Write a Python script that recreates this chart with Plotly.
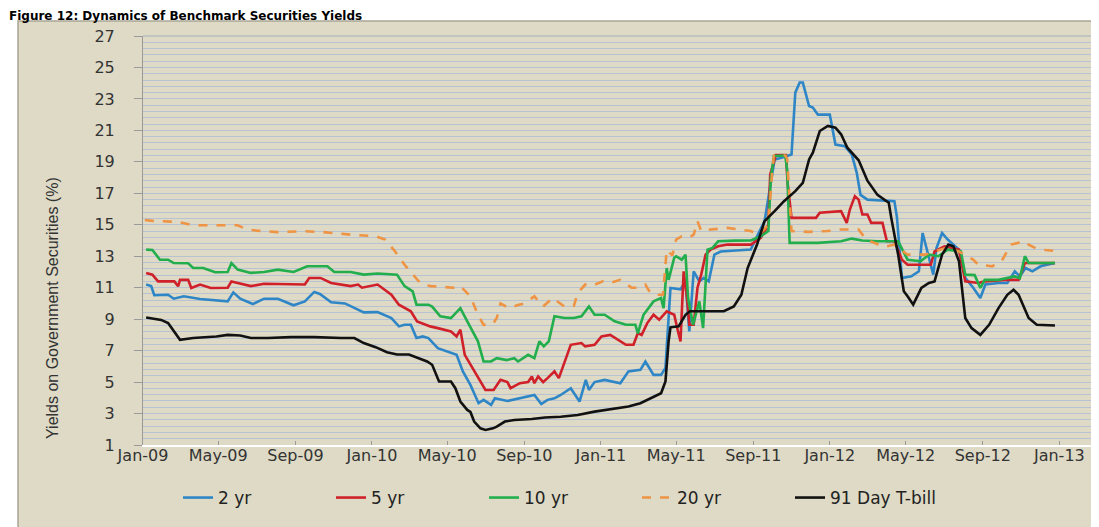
import plotly.graph_objects as go

# ---------------- data ----------------
dates_2yr = ["2009-01-06","2009-01-14","2009-01-19","2009-02-10","2009-02-19","2009-03-07","2009-04-02","2009-04-28",
             "2009-05-16","2009-05-25","2009-06-05","2009-06-25","2009-07-13","2009-08-04","2009-08-29","2009-09-16",
             "2009-10-01","2009-10-10","2009-10-28","2009-11-19","2009-12-19","2010-01-10","2010-02-01","2010-02-13",
             "2010-02-22","2010-03-04","2010-03-13","2010-03-23","2010-04-01","2010-04-16","2010-05-01","2010-05-16",
             "2010-05-26","2010-06-07","2010-06-20","2010-06-28","2010-07-10","2010-07-16","2010-08-05","2010-08-25",
             "2010-09-17","2010-09-28","2010-10-08","2010-10-19","2010-10-29","2010-11-14","2010-11-28","2010-12-08",
             "2010-12-13","2010-12-22","2011-01-07","2011-02-01","2011-02-14","2011-03-05","2011-03-13","2011-03-26",
             "2011-04-07","2011-04-14","2011-04-22","2011-05-08","2011-05-16","2011-05-22","2011-05-26","2011-05-29",
             "2011-06-07","2011-06-14","2011-06-22","2011-07-01","2011-07-11","2011-07-28","2011-08-28","2011-09-07",
             "2011-09-19","2011-09-25","2011-10-05","2011-10-16","2011-11-01","2011-11-07","2011-11-14","2011-11-19",
             "2011-11-29","2011-12-05","2011-12-13","2012-01-01","2012-01-10","2012-01-25","2012-02-05","2012-02-13",
             "2012-02-19","2012-03-01","2012-04-13","2012-04-17","2012-04-25","2012-05-10","2012-05-22","2012-05-28",
             "2012-06-10","2012-06-14","2012-06-19","2012-06-28","2012-07-07","2012-07-25","2012-08-04","2012-08-17",
             "2012-08-28","2012-09-05","2012-09-26","2012-10-10","2012-10-22","2012-10-30","2012-11-08","2012-11-19",
             "2012-12-02","2012-12-25"]
yld_2yr = [11.2,11.1,10.52,10.55,10.3,10.45,10.28,10.2,
           10.13,10.7,10.3,9.96,10.3,10.3,9.88,10.13,
           10.73,10.6,10.07,10.0,9.43,9.45,9.07,8.54,
           8.64,8.64,7.8,7.9,7.8,7.16,6.95,6.73,
           5.68,4.82,3.66,3.87,3.55,3.97,3.8,3.97,
           4.18,3.6,3.87,3.97,4.18,4.61,3.76,5.14,
           4.5,5.0,5.14,4.93,5.68,5.78,6.31,5.46,
           5.46,5.9,10.98,10.9,11.4,8.22,10.13,12.04,
           11.4,11.62,11.4,13.1,13.3,13.35,13.42,14.27,
           15.23,16.71,19.15,19.26,19.47,23.4,24.04,24.04,
           22.55,22.45,22.0,22.0,20.1,20.0,19.47,18.3,
           16.9,16.6,16.5,15.5,11.62,11.72,12.04,14.48,
           12.46,11.83,13.5,14.48,14.06,13.42,11.62,10.98,
           10.34,11.2,11.3,11.3,12.04,11.72,12.25,12.04,
           12.36,12.57]

dates_5yr = ["2009-01-06","2009-01-16","2009-01-25","2009-02-20","2009-02-26","2009-03-01","2009-03-14","2009-03-19",
             "2009-04-02","2009-04-19","2009-05-16","2009-05-22","2009-06-01","2009-06-22","2009-07-13","2009-08-19",
             "2009-09-16","2009-09-23","2009-10-11","2009-10-28","2009-11-28","2009-12-10","2009-12-16","2010-01-10",
             "2010-01-22","2010-02-01","2010-02-13","2010-03-04","2010-03-14","2010-04-04","2010-04-16","2010-05-07",
             "2010-05-16","2010-05-22","2010-05-29","2010-06-13","2010-07-01","2010-07-14","2010-07-25","2010-08-05",
             "2010-08-10","2010-08-25","2010-09-07","2010-09-13","2010-09-17","2010-09-23","2010-10-01","2010-10-08",
             "2010-10-19","2010-10-26","2010-11-04","2010-11-14","2010-12-01","2010-12-07","2010-12-22","2011-01-02",
             "2011-01-16","2011-02-10","2011-02-22","2011-03-01","2011-03-07","2011-03-16","2011-03-26","2011-04-04",
             "2011-04-16","2011-04-28","2011-05-04","2011-05-08","2011-05-13","2011-05-19","2011-05-22","2011-05-29",
             "2011-06-04","2011-06-10","2011-06-17","2011-06-25","2011-07-07","2011-07-22","2011-08-28","2011-09-13",
             "2011-09-25","2011-09-28","2011-10-07","2011-10-23","2011-10-26","2011-11-01","2011-12-10","2011-12-16",
             "2012-01-19","2012-01-28","2012-02-02","2012-02-10","2012-02-16","2012-02-22","2012-03-01","2012-03-07",
             "2012-03-25","2012-04-01","2012-04-13","2012-04-25","2012-05-04","2012-06-10","2012-06-16","2012-07-02",
             "2012-07-25","2012-08-04","2012-08-25","2012-09-04","2012-10-07","2012-10-28","2012-11-07","2012-12-25"]
yld_5yr = [11.94,11.83,11.4,11.4,11.09,11.5,11.5,10.98,
           11.2,10.98,11.0,11.4,11.3,11.1,11.25,11.2,
           11.2,11.62,11.62,11.3,11.1,11.2,11.0,11.2,
           10.87,10.55,9.92,9.5,8.86,8.54,8.43,8.22,
           7.9,8.33,6.73,5.68,4.5,4.5,5.14,5.0,
           4.61,4.93,5.0,5.36,4.93,5.36,5.0,5.25,
           5.68,5.25,6.31,7.37,7.48,7.27,7.37,7.9,
           8.0,7.37,7.37,8.12,8.0,8.75,9.28,8.96,
           9.5,9.28,8.22,7.59,12.04,10.13,8.64,8.64,
           10.98,11.83,13.1,13.42,13.63,13.74,13.74,14.17,
           15.0,18.2,19.43,19.43,17.56,15.44,15.44,15.76,
           15.87,15.12,15.97,16.82,16.6,15.65,15.65,15.12,
           15.12,13.95,13.95,12.78,12.46,12.46,13.3,13.63,
           13.42,11.4,11.3,11.4,11.5,11.5,12.57,12.57]

dates_10yr = ["2009-01-06","2009-01-16","2009-01-28","2009-02-10","2009-02-19","2009-03-14","2009-03-22","2009-04-07",
              "2009-04-26","2009-05-16","2009-05-22","2009-06-01","2009-06-22","2009-07-13","2009-08-04","2009-08-29",
              "2009-09-20","2009-10-22","2009-11-02","2009-11-28","2009-12-19","2010-01-10","2010-02-10","2010-02-22",
              "2010-03-07","2010-03-13","2010-03-25","2010-04-01","2010-04-07","2010-04-20","2010-05-07","2010-05-22",
              "2010-06-02","2010-06-19","2010-06-28","2010-07-10","2010-07-19","2010-08-04","2010-08-16","2010-08-22",
              "2010-09-07","2010-09-17","2010-09-25","2010-10-02","2010-10-10","2010-10-19","2010-11-04","2010-11-19",
              "2010-12-01","2010-12-13","2010-12-22","2011-01-07","2011-01-23","2011-02-10","2011-02-25","2011-03-01",
              "2011-03-05","2011-03-10","2011-03-26","2011-04-07","2011-04-11","2011-04-16","2011-04-19","2011-04-28",
              "2011-05-01","2011-05-10","2011-05-16","2011-05-20","2011-05-28","2011-06-07","2011-06-13","2011-06-17",
              "2011-06-20","2011-06-28","2011-07-07","2011-08-02","2011-08-28","2011-09-13","2011-09-25","2011-09-29",
              "2011-10-04","2011-10-22","2011-10-25","2011-10-29","2011-12-13","2012-01-19","2012-02-05","2012-02-22",
              "2012-03-17","2012-04-19","2012-05-04","2012-05-25","2012-06-07","2012-06-22","2012-07-07","2012-07-28",
              "2012-08-04","2012-08-19","2012-08-28","2012-09-04","2012-09-26","2012-10-22","2012-10-30","2012-11-07",
              "2012-11-13","2012-12-04","2012-12-25"]
yld_10yr = [13.42,13.4,12.78,12.78,12.57,12.55,12.25,12.25,
            11.98,12.0,12.57,12.15,11.94,12.0,12.15,12.0,
            12.36,12.36,12.0,12.0,11.83,11.9,11.83,11.1,
            10.77,9.92,9.92,9.92,9.8,9.18,9.07,9.7,
            8.86,7.59,6.31,6.31,6.52,6.4,6.52,6.31,
            6.73,6.52,7.59,7.27,7.59,9.18,9.07,9.07,
            9.18,9.81,9.28,9.28,8.86,8.64,8.64,8.1,
            8.64,9.28,10.13,10.34,9.7,12.25,11.5,12.9,
            13.0,12.78,13.1,10.34,8.64,10.13,8.43,11.83,
            13.42,13.53,13.95,13.99,14.0,14.27,14.6,17.99,
            19.37,19.4,18.5,13.85,13.85,13.95,14.12,14.0,
            13.95,13.95,12.78,12.68,13.1,13.0,13.42,13.3,
            11.83,11.8,10.98,11.5,11.5,11.72,11.6,13.0,
            12.57,12.57,12.57]

dates_20yr = ["2009-01-04","2009-01-16","2009-02-15","2009-03-01","2009-03-22","2009-05-10","2009-06-01","2009-06-16",
              "2009-07-01","2009-08-04","2009-09-16","2009-10-16","2009-11-28","2010-01-07","2010-01-22","2010-02-07",
              "2010-02-22","2010-03-08","2010-03-19","2010-04-04","2010-05-01","2010-05-11","2010-05-22","2010-06-07",
              "2010-06-19","2010-06-28","2010-07-13","2010-07-19","2010-07-25","2010-08-07","2010-08-22","2010-09-01",
              "2010-09-17","2010-10-01","2010-10-16","2010-11-04","2010-11-19","2010-11-25","2010-12-07","2010-12-16",
              "2011-01-04","2011-01-16","2011-02-01","2011-02-19","2011-03-01","2011-03-13","2011-03-19","2011-03-26",
              "2011-04-10","2011-04-14","2011-04-16","2011-04-25","2011-05-01","2011-05-10","2011-05-22","2011-05-29",
              "2011-06-04","2011-06-10","2011-06-25","2011-07-22","2011-08-13","2011-08-28","2011-09-10","2011-09-25",
              "2011-10-02","2011-10-04","2011-10-22","2011-10-25","2011-11-01","2011-11-28","2011-12-28","2012-01-19",
              "2012-02-16","2012-02-28","2012-03-28","2012-04-13","2012-05-04","2012-06-01","2012-07-02","2012-07-25",
              "2012-08-16","2012-08-25","2012-09-16","2012-10-01","2012-10-16","2012-11-07","2012-11-13","2012-11-25",
              "2012-12-10","2012-12-22"]
yld_20yr = [15.3,15.25,15.2,15.15,14.97,14.97,14.97,14.7,
            14.63,14.53,14.59,14.53,14.37,14.27,14.06,13.3,
            12.46,11.8,11.3,11.1,11.0,11.0,11.1,10.45,
            9.28,8.64,8.7,9.07,10.0,9.7,9.9,10.0,
            10.45,9.8,10.35,9.8,9.85,10.65,11.2,11.1,
            11.4,11.3,11.5,11.0,11.0,11.2,10.8,10.55,
            10.55,12.2,13.4,13.05,14.06,14.27,14.2,14.37,
            15.23,14.6,14.7,14.8,14.7,14.6,14.37,15.0,
            18.8,19.4,19.4,19.2,14.6,14.55,14.6,14.7,
            14.7,14.06,13.6,13.74,13.1,13.1,13.5,13.3,
            12.8,12.46,12.36,12.7,13.74,13.95,13.74,13.5,
            13.4,13.35]

dates_tbill = ["2009-01-06","2009-01-30","2009-02-10","2009-03-01","2009-03-22","2009-04-28","2009-05-16","2009-06-05",
               "2009-06-22","2009-07-19","2009-08-25","2009-10-01","2009-11-13","2009-12-04","2009-12-19","2010-01-07",
               "2010-01-25","2010-02-10","2010-03-01","2010-03-16","2010-03-30","2010-04-07","2010-04-18","2010-05-07",
               "2010-05-14","2010-05-22","2010-06-02","2010-06-07","2010-06-13","2010-06-23","2010-07-01","2010-07-13",
               "2010-07-19","2010-08-01","2010-08-16","2010-09-13","2010-10-04","2010-10-29","2010-11-25","2010-12-22",
               "2011-01-23","2011-02-14","2011-03-05","2011-03-22","2011-04-07","2011-04-14","2011-04-19","2011-04-22",
               "2011-05-05","2011-05-16","2011-05-23","2011-07-16","2011-08-01","2011-08-13","2011-08-23","2011-09-07",
               "2011-09-19","2011-10-05","2011-10-20","2011-11-07","2011-11-19","2011-11-29","2011-12-05","2011-12-16",
               "2011-12-29","2012-01-10","2012-01-19","2012-01-29","2012-02-16","2012-03-01","2012-03-17","2012-04-04",
               "2012-04-08","2012-04-19","2012-04-28","2012-05-04","2012-05-13","2012-05-26","2012-06-07","2012-06-16",
               "2012-06-28","2012-07-08","2012-07-16","2012-07-25","2012-08-04","2012-08-14","2012-08-28","2012-09-11",
               "2012-09-26","2012-10-10","2012-10-20","2012-10-28","2012-11-13","2012-11-26","2012-12-13","2012-12-25"]
yld_tbill = [9.11,8.95,8.75,7.69,7.8,7.9,8.0,7.96,
             7.8,7.8,7.86,7.86,7.8,7.8,7.48,7.22,
             6.9,6.75,6.75,6.5,6.31,6.1,5.04,5.04,
             4.61,3.76,3.23,3.1,2.49,2.06,1.96,2.06,
             2.17,2.49,2.59,2.65,2.75,2.8,2.91,3.12,
             3.34,3.45,3.66,3.97,4.29,5.04,7.59,8.48,
             8.54,9.28,9.5,9.5,9.81,10.55,12.25,13.74,
             15.23,15.87,16.5,17.14,17.67,19.15,19.58,20.96,
             21.28,21.17,20.75,19.9,19.1,17.8,16.9,16.4,
             15.44,13.1,10.77,10.45,9.92,10.98,11.3,11.4,
             13.1,13.74,13.63,12.68,9.07,8.43,8.0,8.64,
             9.7,10.55,10.87,10.55,9.07,8.64,8.64,8.6]

series_names = ["2 yr", "5 yr", "10 yr", "20 yr", "91 Day T-bill"]
title_text = "Figure 12: Dynamics of Benchmark Securities Yields"
y_title = "Yields on Government Securities (%)"

# ---------------- figure ----------------
W, H = 1099, 527
L, R, T, B = 135, 5, 28, 90
pw, ph = W - L - R, H - T - B

def px_x(px):
    return (px - L) / pw

def px_y(py):
    return (H - B - py) / ph

styles = [
    dict(color="#2F86C6", width=2.6),
    dict(color="#D0202A", width=2.6),
    dict(color="#22AE4C", width=2.6),
    dict(color="#EE9444", width=2.6, dash="dash"),
    dict(color="#111111", width=2.6),
]
xs = [dates_2yr, dates_5yr, dates_10yr, dates_20yr, dates_tbill]
ys = [yld_2yr, yld_5yr, yld_10yr, yld_20yr, yld_tbill]

fig = go.Figure()
for name, x, y, st in zip(series_names, xs, ys, styles):
    fig.add_trace(go.Scatter(x=x, y=y, mode="lines", name=name, line=st))

grid_col = "#B7C3D3"
fig.update_layout(
    width=W, height=H,
    margin=dict(l=L, r=R, t=T, b=B),
    paper_bgcolor="white",
    plot_bgcolor="#DCE6F2",
    font=dict(family="DejaVu Sans, Verdana, sans-serif", color="#2a2a2a"),
    xaxis=dict(
        type="date",
        range=["2009-01-01", "2013-03-10"],
        tick0="2009-01-01", dtick="M4", tickformat="%b-%y",
        showgrid=False, zeroline=False,
        showline=True, linecolor="white", linewidth=2,
        ticks="inside", ticklen=4, tickcolor="#9a9a9a",
        ticklabelstandoff=-5,
        tickfont=dict(size=16, family="DejaVu Sans, Verdana, sans-serif", color="#333"),
    ),
    yaxis=dict(
        range=[1, 27], tick0=1, dtick=2,
        showgrid=True, gridcolor=grid_col, gridwidth=1,
        minor=dict(tick0=1, dtick=0.4, showgrid=True, gridcolor=grid_col, gridwidth=1),
        zeroline=False,
        showline=True, linecolor="#9a9a9a", linewidth=1,
        ticks="outside", ticklen=8, tickcolor="#9a9a9a",
        ticklabelstandoff=16,
        tickfont=dict(size=16, family="DejaVu Sans, Verdana, sans-serif", color="#333"),
    ),
    legend=dict(
        orientation="h", x=px_x(170), xanchor="left", y=px_y(490), yanchor="middle",
        bgcolor="rgba(0,0,0,0)", font=dict(size=17, color="#222"),
        entrywidthmode="pixels", entrywidth=108,
    ),
    showlegend=True,
)

# beige chart area background with border
fig.add_shape(type="rect", xref="paper", yref="paper", layer="below",
              x0=px_x(10), x1=px_x(W + 20), y0=px_y(H + 20), y1=px_y(13),
              fillcolor="#DEDAC6", line=dict(color="#A9A595", width=1.5))
# top border of plot area and darker right edge
fig.add_shape(type="line", xref="paper", yref="paper", x0=0, x1=1, y0=1, y1=1,
              line=dict(color="#A8B0BA", width=1))
fig.add_shape(type="line", xref="paper", yref="paper", x0=1, x1=1, y0=0, y1=1,
              line=dict(color="#4a4a4a", width=2))

# title at the very top of the picture
fig.add_annotation(text=title_text, xref="paper", yref="paper",
                   x=px_x(0), xanchor="left", y=px_y(0), yanchor="top",
                   showarrow=False, borderpad=0,
                   font=dict(size=12, family="DejaVu Sans, Verdana, sans-serif", color="black", weight="bold"))
# y-axis title
fig.add_annotation(text=y_title, xref="paper", yref="paper",
                   x=px_x(44), xanchor="center", y=px_y(300), yanchor="middle",
                   textangle=-90, showarrow=False,
                   font=dict(size=16, family="Liberation Sans Narrow, Arial Narrow, sans-serif", color="#333"))

fig.write_html("out.html")
